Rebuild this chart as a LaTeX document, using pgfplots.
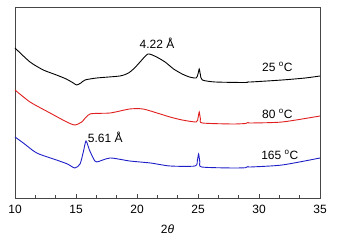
\documentclass[border=0pt]{standalone}
\usepackage{fontspec}
\setmainfont{Liberation Sans}
\usepackage{pgfplots}
\pgfplotsset{compat=1.18}
\definecolor{cred}{RGB}{225,30,30}
\definecolor{cblue}{RGB}{30,30,200}
\definecolor{frame}{RGB}{70,70,70}
\begin{document}
\fontsize{12}{14}\selectfont
\begin{tikzpicture}
\begin{axis}[
  scale only axis,
  width=305pt, height=191pt,
  xmin=10, xmax=35, ymin=2, ymax=193,
  axis line style={frame, line width=0.8pt},
  xtick={10,15,20,25,30,35},
  minor x tick num=2,
  ytick=\empty,
  xtick pos=bottom,
  tick align=inside,
  major tick length=4pt, minor tick length=2.5pt,
  tick style={frame, line width=0.6pt},
  /pgf/number format/assume math mode=true,
  ticklabel style={font=\fontsize{12}{14}\selectfont},
  xticklabel style={yshift=-3pt},
  xlabel={2\textit{θ}},
  xlabel style={font=\fontsize{12}{14}\selectfont, yshift=-3pt},
  clip=false,
]
\path (rel axis cs:-0.0492,-0.2199) rectangle (rel axis cs:1.0721,1.0366);
\addplot[black, line width=0.9pt, smooth, tension=0.4] coordinates {
(10,152)(11.23,138)(12.32,130)(13.4,125)(14.2,121)(14.78,117)(15.05,115)(15.4,117)(15.74,120)(16.7,122)(18.6,124)(19.3,127)(19.8,132)(20.25,138)(20.9,146)(21.6,143)(22.3,138)(23.0,131)(23.7,126)(24.3,123)(24.85,122)(25.0,126)(25.1,131)(25.2,125)(25.35,120)(26.4,118)(28.9,117.5)(29.1,118.5)(29.3,118)(31.9,120)(33.8,122)(35,124)
};
\addplot[cred, line width=0.9pt, smooth, tension=0.4] coordinates {
(10,110)(11.23,98)(12.87,87)(14.24,78)(14.9,75)(15.47,78)(16.15,86)(17.8,87)(19.4,91)(20.5,91)(21.9,86)(22.7,83)(23.7,80)(24.85,78)(25.0,82)(25.1,88)(25.2,81)(25.35,77)(27.8,76)(28.9,76.5)(29.1,77.5)(29.3,77)(31.9,78)(35,84)
};
\addplot[cblue, line width=0.9pt, smooth, tension=0.4] coordinates {
(10,63)(10.68,57)(11.78,47)(13.4,40)(14.3,36)(14.9,32)(15.33,36)(15.6,48)(15.82,59)(16.1,50)(16.45,41)(16.7,38)(17.8,42)(19.4,39)(21.1,37)(22.7,34)(24.75,34)(24.95,40)(25.05,46)(25.15,38)(25.3,33)(27.8,32)(28.9,32.3)(29.1,33.5)(29.3,33)(31.9,35)(35,42)
};
\node at (axis cs:21.64,157) {4.22 Å};
\node at (axis cs:17.4,63) {5.61 Å};
\node at (axis cs:31.5,133) {25 \textsuperscript{o}C};
\node at (axis cs:31.5,86) {80 \textsuperscript{o}C};
\node at (axis cs:31.7,45) {165 \textsuperscript{o}C};
\end{axis}
\end{tikzpicture}
\end{document}
